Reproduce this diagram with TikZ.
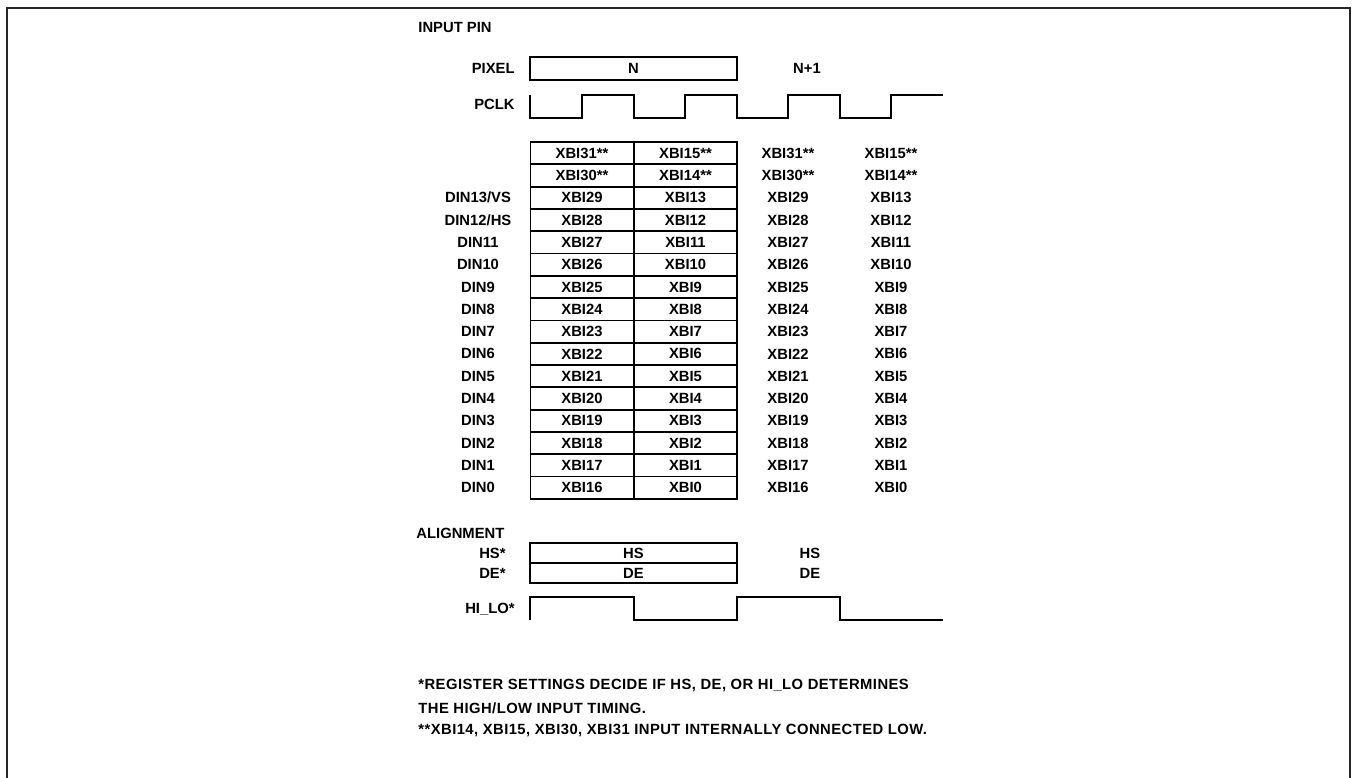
\documentclass[tikz,border=0pt]{standalone}
\usepackage{fontspec}
\setmainfont{Liberation Sans}
\usetikzlibrary{positioning}

\begin{document}
\begin{tikzpicture}[
    x=0.5pt, y=-0.5pt,
    txt/.style={font=\fontsize{7.4}{9}\selectfont\bfseries, inner sep=0pt},
    pinLabel/.style={txt, anchor=east},
    dinLabel/.style={txt},
    cell/.style={txt, draw=black, line width=0.9pt, minimum width=51.5pt, minimum height=11.15pt},
    busBox/.style={txt, draw=black, line width=0.9pt, minimum width=103.5pt, minimum height=11.5pt},
    wave/.style={draw=black, line width=0.9pt},
    noteText/.style={txt, anchor=west, font=\fontsize{7.4}{9}\selectfont\bfseries\addfontfeatures{LetterSpace=3}},
    frameLine/.style={draw=black!85, line width=1.3pt}
]
    \useasboundingbox (0,0) rectangle (1353,777);

    % Outer frame (open at the bottom)
    \draw[frameLine] (7,790) -- (7,8) -- (1350,8) -- (1350,790);

    % Heading
    \node[txt, anchor=west] (pinTitle) at (418,27) {INPUT PIN};

    % PIXEL bus
    \node[pinLabel] (pixelLbl) at (515,68.5) {PIXEL};
    \node[busBox] (pixelN) at (633.5,68.5) {N};
    \node[txt] (pixelNext) at (807,68.5) {N+1};

    % PCLK waveform
    \node[pinLabel] (pclkLbl) at (515,104) {PCLK};
    \draw[wave] (530,95) -- (530,118) -- (582,118) -- (582,95) -- (634,95) -- (634,118)
        -- (685,118) -- (685,95) -- (737,95) -- (737,118) -- (788,118) -- (788,95)
        -- (840,95) -- (840,118) -- (891,118) -- (891,95) -- (943,95);

    % Data bit table, pixel N (boxed) and pixel N+1 (free text)
    \node[cell] (a1) at (582,153.2) {XBI31**};
    \node[cell] (b1) at (685.5,153.2) {XBI15**};
    \node[txt] (c1) at (788,153.2) {XBI31**};
    \node[txt] (d1) at (891,153.2) {XBI15**};
    \node[cell] (a2) at (582,175.5) {XBI30**};
    \node[cell] (b2) at (685.5,175.5) {XBI14**};
    \node[txt] (c2) at (788,175.5) {XBI30**};
    \node[txt] (d2) at (891,175.5) {XBI14**};
    \foreach \k in {13,...,0}{
        \pgfmathtruncatemacro{\r}{16-\k}
        \pgfmathtruncatemacro{\hi}{\k+16}
        \pgfmathsetmacro{\yy}{142+22.3*(\r-0.5)}
        \node[dinLabel] (l\r) at (478,\yy) {\ifnum\k=13 DIN13/VS\else\ifnum\k=12 DIN12/HS\else DIN\k\fi\fi};
        \node[cell] (a\r) at (582,\yy) {XBI\hi};
        \node[cell] (b\r) at (685.5,\yy) {XBI\k};
        \node[txt] (c\r) at (788,\yy) {XBI\hi};
        \node[txt] (d\r) at (891,\yy) {XBI\k};
    }

    % Alignment signals
    \node[txt, anchor=west] (alignTitle) at (416,533) {ALIGNMENT};
    \node[pinLabel] (hsLbl) at (506,553) {HS*};
    \node[busBox, minimum height=10pt] (hsBox) at (633.5,553) {HS};
    \node[txt] (hsNext) at (810,553) {HS};
    \node[pinLabel] (deLbl) at (506,573) {DE*};
    \node[busBox, minimum height=10pt] (deBox) at (633.5,573) {DE};
    \node[txt] (deNext) at (810,573) {DE};

    % HI_LO waveform
    \node[pinLabel] (hiloLbl) at (515,609) {HI\_LO*};
    \draw[wave] (530,620) -- (530,597) -- (634,597) -- (634,620) -- (737,620)
        -- (737,597) -- (840,597) -- (840,620) -- (943,620);

    % Footnotes
    \node[noteText] (note1) at (418,685) {*REGISTER SETTINGS DECIDE IF HS, DE, OR HI\_LO DETERMINES};
    \node[noteText] (note2) at (418,708) {THE HIGH/LOW INPUT TIMING.};
    \node[noteText] (note3) at (418,730) {**XBI14, XBI15, XBI30, XBI31 INPUT INTERNALLY CONNECTED LOW.};

\end{tikzpicture}
\end{document}
